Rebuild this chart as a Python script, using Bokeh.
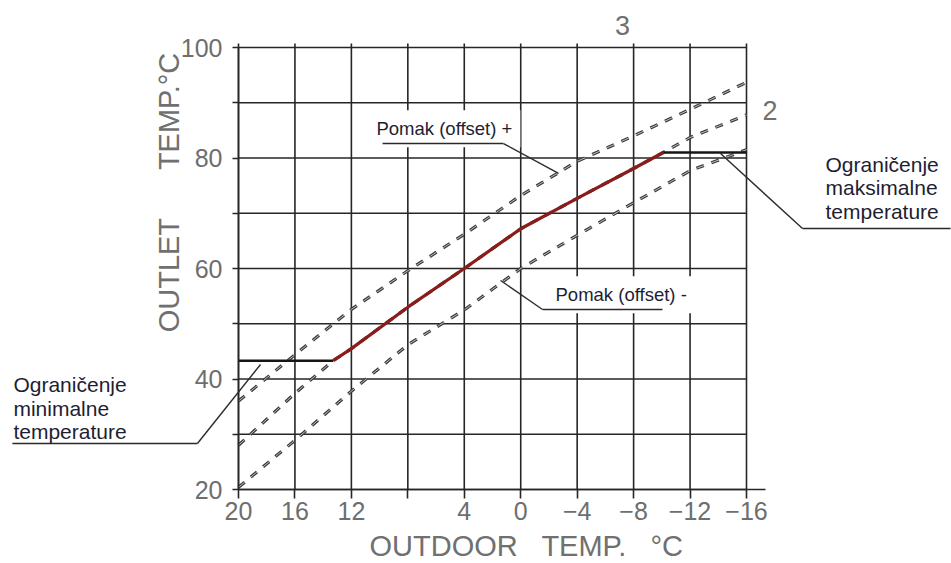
import math
from bokeh.plotting import figure
from bokeh.models import Range1d, FixedTicker, Label, PolyAnnotation
from bokeh.embed import file_html
from bokeh.resources import INLINE

# ---------------- data ----------------
outdoor_ticks = [20, 16, 12, 8, 4, 0, -4, -8, -12, -16]
outdoor_tick_labels = ["20", "16", "12", "", "4", "0", "\u22124", "\u22128", "\u221212", "\u221216"]
outlet_ticks = [20, 30, 40, 50, 60, 70, 80, 90, 100]
outlet_tick_labels = ["20", "", "40", "", "60", "", "80", "", "100"]

# curve 3 (offset +) and curve 1 (offset -) read at each outdoor grid value
curve_x = [20, 16, 12, 8, 4, 0, -4, -8, -12, -16]
curve3_plus = [36.0, 44.4, 52.6, 59.6, 66.2, 73.2, 79.4, 84.0, 88.8, 93.7]
curve1_minus = [20.4, 28.9, 37.8, 46.2, 52.5, 60.0, 66.0, 71.9, 77.7, 81.5]

# curve 2 (set heating curve)
curve2_x = [20, 16, 13.3, 12, 8, 4, 0, -4, -8, -10.1, -12, -16]
curve2_y = [28.0, 37.4, 43.3, 45.5, 53.0, 60.0, 67.2, 72.7, 78.1, 81.0, 83.7, 87.8]

# limits
min_limit = 43.3          # minimal outlet temperature
min_limit_from = 20
min_limit_to = 13.3
max_limit = 81.0          # maximal outlet temperature
max_limit_from = -10.1
max_limit_to = -16

# active (limited) curve = curve 2 between the limits
active_x = [x for x, y in zip(curve2_x, curve2_y) if min_limit <= y <= max_limit]
active_y = [y for y in curve2_y if min_limit <= y <= max_limit]

# ---------------- layout ----------------
W, H = 951, 563
X_LEFT_PX, X_RIGHT_PX = 238, 746     # pixel columns of outdoor 20 and -16
Y_BOT_PX, Y_TOP_PX = 489, 47         # pixel rows of outlet 20 and 100
X_MAX, X_MIN = 20, -16
Y_MIN, Y_MAX = 20, 100
sx = (X_MAX - X_MIN) / (X_RIGHT_PX - X_LEFT_PX)
sy = (Y_MAX - Y_MIN) / (Y_BOT_PX - Y_TOP_PX)
x_start = X_MAX + X_LEFT_PX * sx
x_end = X_MAX - (W - X_LEFT_PX) * sx
y_top = Y_MAX + Y_TOP_PX * sy
y_bottom = Y_MIN - (H - Y_BOT_PX) * sy

FONT = "Liberation Sans"
GRID_C = "#262626"
TICK_C = "#6e6e6e"
TITLE_C = "#707070"
ANN_C = "#1e1e32"
NB = "\u00a0"

p = figure(width=W, height=H,
           x_range=Range1d(x_start, x_end), y_range=Range1d(y_bottom, y_top),
           output_backend="svg", toolbar_location=None,
           min_border_left=0, min_border_right=0,
           min_border_top=0, min_border_bottom=0)
p.background_fill_color = "white"
p.border_fill_color = "white"
p.outline_line_color = None
p.xgrid.visible = False
p.ygrid.visible = False

xt = FixedTicker(ticks=outdoor_ticks)
yt = FixedTicker(ticks=outlet_ticks)

xa = p.xaxis[0]
xa.fixed_location = Y_MIN
xa.bounds = (X_MIN - 19 * sx, X_MAX)
xa.ticker = xt
xa.major_label_overrides = {t: s for t, s in zip(outdoor_ticks, outdoor_tick_labels)}
xa.major_tick_out = 9
xa.major_tick_in = 0
xa.minor_tick_line_color = None
xa.major_tick_line_color = GRID_C
xa.major_tick_line_width = 1.6
xa.axis_line_color = GRID_C
xa.axis_line_width = 1.6
xa.major_label_standoff = 3
xa.major_label_text_font = FONT
xa.major_label_text_font_size = "25px"
xa.major_label_text_color = TICK_C

ya = p.yaxis[0]
ya.fixed_location = X_MAX
ya.bounds = (Y_MIN, Y_MAX)
ya.ticker = yt
ya.major_label_overrides = {t: s for t, s in zip(outlet_ticks, outlet_tick_labels)}
ya.major_tick_out = 6
ya.major_tick_in = 0
ya.minor_tick_line_color = None
ya.major_tick_line_color = GRID_C
ya.major_tick_line_width = 1.6
ya.axis_line_color = GRID_C
ya.axis_line_width = 1.6
ya.major_label_standoff = 10
ya.major_label_text_font = FONT
ya.major_label_text_font_size = "25px"
ya.major_label_text_color = TICK_C

# grid lines drawn from the tick lists (vertical ones overshoot the top a little)
p.segment(x0=outdoor_ticks, y0=[Y_MIN] * len(outdoor_ticks),
          x1=outdoor_ticks, y1=[Y_MAX + 4 * sy] * len(outdoor_ticks),
          line_color=GRID_C, line_width=1.6)
p.segment(x0=[X_MAX] * len(outlet_ticks), y0=outlet_ticks,
          x1=[X_MIN] * len(outlet_ticks), y1=outlet_ticks,
          line_color=GRID_C, line_width=1.6)

# ---------------- curves ----------------
def dashed(xs, ys):
    p.line(xs, ys, line_color="#3c3c3c", line_width=3.2, line_dash="8 8")
    p.line(xs, ys, line_color="#bdbdbd", line_width=1.0, line_dash="8 8")

dashed(curve_x, curve3_plus)
dashed(curve_x, curve1_minus)
dashed(curve2_x, curve2_y)

p.line([min_limit_from, min_limit_to], [min_limit, min_limit], line_color="#161616", line_width=2.6)
p.line([max_limit_from, max_limit_to], [max_limit, max_limit], line_color="#161616", line_width=2.6)
p.line(active_x, active_y, line_color="#8b1c1c", line_width=3.2)

# ---------------- texts ----------------
def lab(x, y, text, size, color, align="left", angle=0.0, bg=None):
    kw = {}
    if bg:
        kw = dict(background_fill_color=bg, padding=8)
    l = Label(x=x, y=y, text=text, text_font=FONT, text_font_size=size,
              text_color=color, text_align=align, text_baseline="middle",
              angle=angle, **kw)
    p.add_layout(l)

# axis titles
lab(-0.41, 9.75, "OUTDOOR" + NB * 2 + " TEMP." + NB * 2 + " \u00b0C", "29px", TITLE_C, align="center")
lab(24.96, 73.8, "OUTLET" + NB * 5 + " TEMP.\u00b0C", "29px", TITLE_C, align="center",
    angle=math.pi / 2)

# curve numbers
lab(-7.21, 103.98, "3", "27px", TITLE_C, align="center")
lab(-17.67, 88.6, "2", "27px", TITLE_C, align="center")

# annotations
lab(10.79, 85.28, "Pomak (offset) +", "18.5px", ANN_C, bg="white")
lab(-1.9, 55.26, "Pomak (offset) -", "18.5px", ANN_C, bg="white")

lab(-21.6, 78.91, "Ograni\u010denje", "21px", ANN_C)
lab(-21.6, 74.65, "maksimalne", "21px", ANN_C)
lab(-21.6, 70.40, "temperature", "21px", ANN_C)

lab(35.95, 39.06, "Ograni\u010denje", "21px", ANN_C)
lab(35.95, 34.66, "minimalne", "21px", ANN_C)
lab(35.95, 30.50, "temperature", "21px", ANN_C)

# leader lines (segments)
def leader(pts):
    for (x0, y0), (x1, y1) in zip(pts[:-1], pts[1:]):
        p.add_layout(PolyAnnotation(xs=[x0, x1], ys=[y0, y1], xs_units="data", ys_units="data",
                                    fill_alpha=0, line_color="#2a2a2a", line_alpha=1.0,
                                    line_width=1.4))

leader([(9.79, 82.62), (1.22, 82.62), (-2.68, 77.2)])
leader([(1.43, 57.83), (-1.545, 52.58), (-10.05, 52.58)])
leader([(-14.16, 80.81), (-19.97, 67.24), (-30.46, 67.24)])
leader([(18.44, 42.62), (22.91, 28.33), (36.02, 28.33)])

open("out.html", "w").write(file_html(p, INLINE))
